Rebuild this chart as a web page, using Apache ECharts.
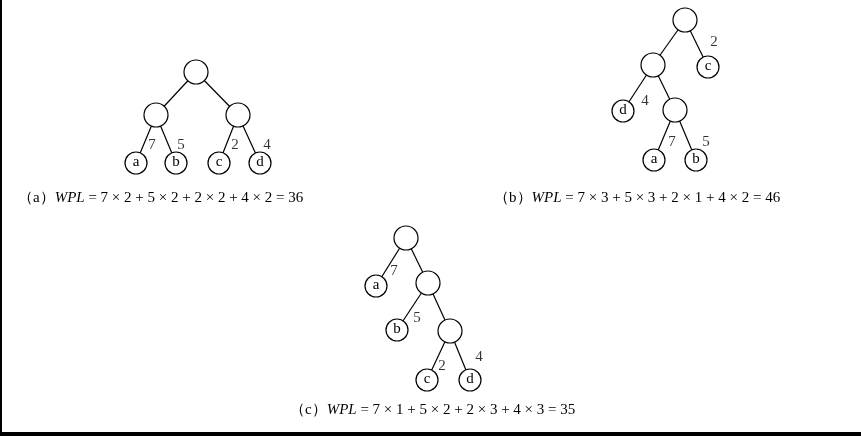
<!DOCTYPE html>
<html><head><meta charset="utf-8">
<script src="https://cdn.jsdelivr.net/npm/echarts@6/dist/echarts.min.js"></script>
<style>html,body{margin:0;padding:0;background:#fff}#c{width:861px;height:436px}</style>
</head><body><div id="c"></div>
<script>
// nodes: [name, x, y, label, radius]
const nodes = [
  ['a0', 196, 72, '', 12], ['a1', 156, 115, '', 12], ['a2', 238, 115, '', 12],
  ['aa', 136, 163, 'a', 11], ['ab', 176, 163, 'b', 11], ['ac', 219, 163, 'c', 11], ['ad', 260, 163, 'd', 11],
  ['b0', 685, 20, '', 12], ['b1', 653, 65, '', 12], ['bc', 708, 67, 'c', 11],
  ['bd', 623, 111, 'd', 11], ['b2', 675, 110, '', 12], ['ba', 654, 160, 'a', 11], ['bb', 696, 160, 'b', 11],
  ['c0', 406, 238, '', 12], ['ca', 376, 286, 'a', 11], ['c1', 428, 283, '', 12],
  ['cb', 397, 330, 'b', 11], ['c2', 450, 331, '', 12], ['cc', 427, 380, 'c', 11], ['cd', 470, 380, 'd', 11]
];
const edges = [
  ['a0','a1'],['a0','a2'],['a1','aa'],['a1','ab'],['a2','ac'],['a2','ad'],
  ['b0','b1'],['b0','bc'],['b1','bd'],['b1','b2'],['b2','ba'],['b2','bb'],
  ['c0','ca'],['c0','c1'],['c1','cb'],['c1','c2'],['c2','cc'],['c2','cd']
];
// weight labels: [text, x, y]
const weights = [
  ['7',152,145],['5',181,145],['2',235,145],['4',267,145],
  ['2',714,42],['4',645,101],['7',672,142],['5',706,142],
  ['7',394,271],['5',417,318],['2',442,366],['4',479,357]
];
const captions = [
  ['（a）', 'WPL', ' = 7 × 2 + 5 × 2 + 2 × 2 + 4 × 2 = 36', 18, 201],
  ['（b）', 'WPL', ' = 7 × 3 + 5 × 3 + 2 × 1 + 4 × 2 = 46', 494, 201],
  ['（c）', 'WPL', ' = 7 × 1 + 5 × 2 + 2 × 3 + 4 × 3 = 35', 290, 413]
];
const font = 'Liberation Serif, Times New Roman, serif';
const chart = echarts.init(document.getElementById('c'));
chart.setOption({
  animation: false,
  grid: {left: 0, right: 0, top: 0, bottom: 0},
  xAxis: {type: 'value', min: 0, max: 861, show: false},
  yAxis: {type: 'value', min: 0, max: 436, inverse: true, show: false},
  series: [{
    type: 'graph', coordinateSystem: 'cartesian2d', layout: 'none',
    data: nodes.map(n => ({name: n[0], value: [n[1], n[2]], symbolSize: n[4] * 2,
      label: {show: true, formatter: n[3]}})),
    links: edges.map(e => ({source: e[0], target: e[1]})),
    symbol: 'circle',
    itemStyle: {color: '#fff', borderColor: '#000', borderWidth: 1.2},
    lineStyle: {color: '#000', width: 1.2, opacity: 1},
    label: {color: '#000', fontSize: 15, fontFamily: font, position: 'inside', offset: [0, -1]},
    z: 3
  }, {
    type: 'scatter', symbolSize: 0,
    data: weights.map(w => ({value: [w[1], w[2]], label: {formatter: w[0]}})),
    label: {show: true, position: 'inside', color: '#000', fontSize: 15, fontFamily: font}
  }],
  graphic: captions.map(c => ({
    type: 'text', left: c[3], top: c[4] - 10,
    style: {
      text: '{n|' + c[0] + '}{i|' + c[1] + '}{n|' + c[2] + '}',
      rich: {
        n: {fontSize: 15, fontFamily: font, fill: '#000'},
        i: {fontSize: 15, fontFamily: font, fontStyle: 'italic', fill: '#000'}
      }
    }
  })).concat([
    {type: 'rect', shape: {x: 0, y: 0, width: 2, height: 436}, style: {fill: '#000'}},
    {type: 'rect', shape: {x: 0, y: 432, width: 861, height: 4}, style: {fill: '#000'}}
  ])
});
</script></body></html>
